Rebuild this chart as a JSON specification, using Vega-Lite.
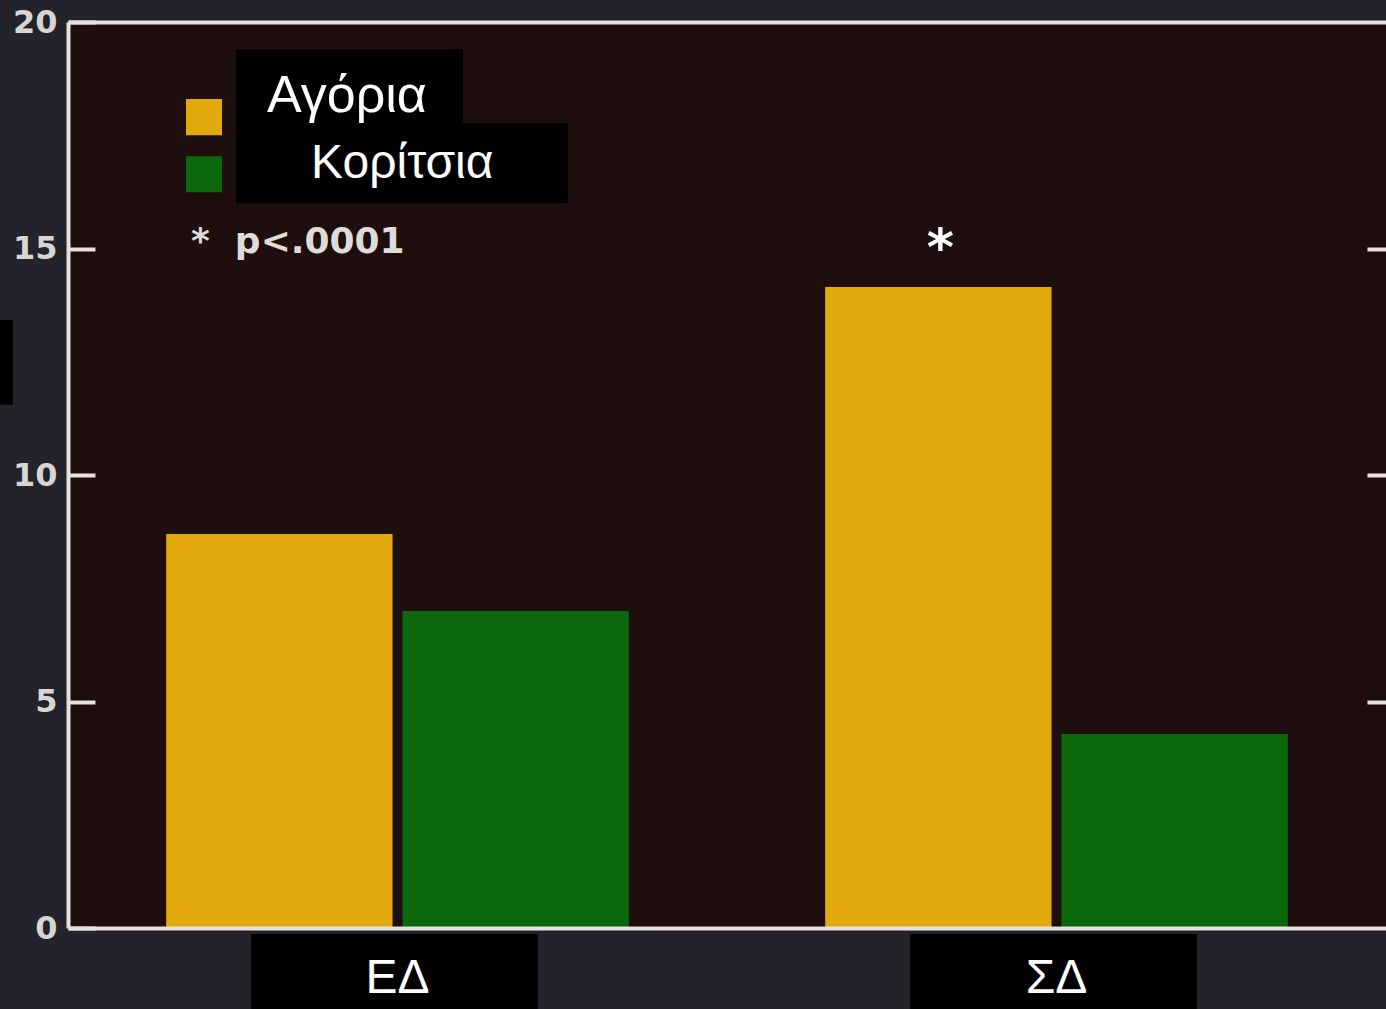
{
  "$schema": "https://vega.github.io/schema/vega-lite/v6.json",
  "width": 1318,
  "height": 906,
  "autosize": {"type": "none"},
  "padding": {"left": 68, "top": 22, "right": 0, "bottom": 81},
  "background": "#23232b",
  "config": {"view": {"fill": "#1f0e0e", "stroke": null}, "axis": {"grid": false}},
  "data": {"values": [
    {"category": "ΕΔ", "sex": "Αγόρια", "value": 8.7, "sig": ""},
    {"category": "ΕΔ", "sex": "Κορίτσια", "value": 7.0, "sig": ""},
    {"category": "ΣΔ", "sex": "Αγόρια", "value": 14.15, "sig": "*"},
    {"category": "ΣΔ", "sex": "Κορίτσια", "value": 4.28, "sig": ""}
  ]},
  "layer": [
    {
      "transform": [{"filter": "datum.sex === 'Αγόρια'"}],
      "mark": {"type": "bar", "color": "#000000", "width": {"band": 0.62}, "xOffset": -3},
      "encoding": {
        "x": {"field": "category", "type": "nominal", "scale": {"domain": ["ΕΔ", "ΣΔ"], "paddingInner": 0.298, "paddingOuter": 0.149}, "axis": null},
        "y": {"datum": -0.13, "type": "quantitative", "scale": {"domain": [0, 20], "nice": false}, "axis": null},
        "y2": {"datum": -1.85}
      }
    },
    {
      "mark": {"type": "bar"},
      "encoding": {
        "x": {"field": "category", "type": "nominal", "scale": {"domain": ["ΕΔ", "ΣΔ"], "paddingInner": 0.298, "paddingOuter": 0.149},
          "axis": {"title": null, "orient": "bottom", "domainColor": "#e6e1dd", "domainWidth": 4, "ticks": false, "labelAngle": 0, "labelFont": "Liberation Sans", "labelFontSize": 48, "labelColor": "#ffffff", "labelPadding": 64, "labelBaseline": "alphabetic", "zindex": 1}},
        "xOffset": {"field": "sex", "type": "nominal", "scale": {"domain": ["Αγόρια", "Κορίτσια"], "paddingInner": 0.042, "paddingOuter": 0}},
        "y": {"field": "value", "type": "quantitative", "scale": {"domain": [0, 20], "nice": false},
          "axis": {"title": null, "orient": "left", "values": [0, 5, 10, 15, 20], "domainColor": "#e6e1dd", "domainWidth": 4, "tickColor": "#e6e1dd", "tickWidth": 4, "tickSize": -27, "labelFont": "DejaVu Sans", "labelFontWeight": "bold", "labelFontSize": 32, "labelColor": "#d8d5d2", "labelPadding": 38, "zindex": 1}},
        "color": {"field": "sex", "type": "nominal", "scale": {"domain": ["Αγόρια", "Κορίτσια"], "range": ["#e2a90d", "#0b690c"]}, "legend": null}
      }
    },
    {
      "mark": {"type": "text", "font": "DejaVu Sans", "fontWeight": "bold", "fontSize": 52, "color": "#ffffff", "baseline": "alphabetic", "dy": -22, "dx": 2},
      "encoding": {
        "x": {"field": "category", "type": "nominal", "scale": {"domain": ["ΕΔ", "ΣΔ"], "paddingInner": 0.298, "paddingOuter": 0.149}, "axis": null},
        "xOffset": {"field": "sex", "type": "nominal", "scale": {"domain": ["Αγόρια", "Κορίτσια"], "paddingInner": 0.042, "paddingOuter": 0}},
        "y": {"field": "value", "type": "quantitative", "scale": {"domain": [0, 20], "nice": false}, "axis": null},
        "text": {"field": "sig"}
      }
    },
    {
      "transform": [{"filter": "datum.category === 'ΕΔ' && datum.sex === 'Αγόρια'"}],
      "mark": {"type": "rect", "color": "#000000"},
      "encoding": {
        "x": {"datum": 0.1275, "type": "quantitative", "scale": {"domain": [0, 1], "nice": false, "zero": false},
          "axis": {"orient": "top", "title": null, "labels": false, "ticks": false, "domainColor": "#e6e1dd", "domainWidth": 4, "zindex": 1}},
        "x2": {"datum": 0.2997},
        "y": {"datum": 19.4, "type": "quantitative", "scale": {"domain": [0, 20], "nice": false},
          "axis": {"orient": "right", "title": null, "values": [5, 10, 15], "labels": false, "domain": false, "tickColor": "#e6e1dd", "tickWidth": 4, "tickSize": -19}},
        "y2": {"datum": 17.77}
      }
    },
    {
      "transform": [{"filter": "datum.category === 'ΕΔ' && datum.sex === 'Αγόρια'"}],
      "mark": {"type": "rect", "color": "#000000"},
      "encoding": {
        "x": {"datum": 0.1275, "type": "quantitative", "scale": {"domain": [0, 1], "nice": false, "zero": false}, "axis": null},
        "x2": {"datum": 0.3794},
        "y": {"datum": 17.77, "type": "quantitative", "scale": {"domain": [0, 20], "nice": false}, "axis": null},
        "y2": {"datum": 16.0}
      }
    },
    {
      "transform": [{"filter": "datum.category === 'ΕΔ' && datum.sex === 'Αγόρια'"}],
      "mark": {"type": "rect", "color": "#000000"},
      "encoding": {
        "x": {"datum": -0.0516, "type": "quantitative", "scale": {"domain": [0, 1], "nice": false, "zero": false}, "axis": null},
        "x2": {"datum": -0.0417},
        "y": {"datum": 13.42, "type": "quantitative", "scale": {"domain": [0, 20], "nice": false}, "axis": null},
        "y2": {"datum": 11.55}
      }
    },
    {
      "transform": [{"filter": "datum.category === 'ΕΔ' && datum.sex === 'Αγόρια'"}],
      "mark": {"type": "point", "shape": "square", "filled": true, "opacity": 1, "size": 1300},
      "encoding": {
        "x": {"datum": 0.1032, "type": "quantitative", "scale": {"domain": [0, 1], "nice": false, "zero": false}, "axis": null},
        "y": {"datum": 17.9, "type": "quantitative", "scale": {"domain": [0, 20], "nice": false}, "axis": null},
        "color": {"field": "sex", "type": "nominal", "scale": {"domain": ["Αγόρια", "Κορίτσια"], "range": ["#e2a90d", "#0b690c"]}, "legend": null}
      }
    },
    {
      "transform": [{"filter": "datum.category === 'ΕΔ' && datum.sex === 'Κορίτσια'"}],
      "mark": {"type": "point", "shape": "square", "filled": true, "opacity": 1, "size": 1300},
      "encoding": {
        "x": {"datum": 0.1032, "type": "quantitative", "scale": {"domain": [0, 1], "nice": false, "zero": false}, "axis": null},
        "y": {"datum": 16.64, "type": "quantitative", "scale": {"domain": [0, 20], "nice": false}, "axis": null},
        "color": {"field": "sex", "type": "nominal", "scale": {"domain": ["Αγόρια", "Κορίτσια"], "range": ["#e2a90d", "#0b690c"]}, "legend": null}
      }
    },
    {
      "transform": [{"filter": "datum.category === 'ΕΔ' && datum.sex === 'Αγόρια'"}],
      "mark": {"type": "text", "font": "Liberation Sans", "fontSize": 52, "color": "#ffffff", "align": "left", "baseline": "alphabetic"},
      "encoding": {
        "x": {"datum": 0.151, "type": "quantitative", "scale": {"domain": [0, 1], "nice": false, "zero": false}, "axis": null},
        "y": {"datum": 18.01, "type": "quantitative", "scale": {"domain": [0, 20], "nice": false}, "axis": null},
        "text": {"field": "sex"}
      }
    },
    {
      "transform": [{"filter": "datum.category === 'ΕΔ' && datum.sex === 'Κορίτσια'"}],
      "mark": {"type": "text", "font": "Liberation Sans", "fontSize": 48, "color": "#ffffff", "align": "left", "baseline": "alphabetic"},
      "encoding": {
        "x": {"datum": 0.1844, "type": "quantitative", "scale": {"domain": [0, 1], "nice": false, "zero": false}, "axis": null},
        "y": {"datum": 16.55, "type": "quantitative", "scale": {"domain": [0, 20], "nice": false}, "axis": null},
        "text": {"field": "sex"}
      }
    },
    {
      "transform": [{"filter": "datum.category === 'ΕΔ' && datum.sex === 'Αγόρια'"}],
      "mark": {"type": "text", "font": "DejaVu Sans", "fontWeight": "bold", "fontSize": 36, "color": "#dedbd8", "align": "left", "baseline": "alphabetic"},
      "encoding": {
        "x": {"datum": 0.0933, "type": "quantitative", "scale": {"domain": [0, 1], "nice": false, "zero": false}, "axis": null},
        "y": {"datum": 14.9, "type": "quantitative", "scale": {"domain": [0, 20], "nice": false}, "axis": null},
        "text": {"value": "*\u00a0\u00a0p<.0001"}
      }
    }
  ],
  "resolve": {"scale": {"x": "independent"}, "axis": {"x": "independent", "y": "independent"}}
}
